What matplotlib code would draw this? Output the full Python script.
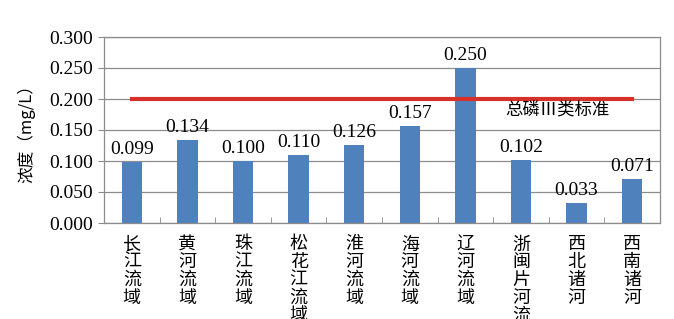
import matplotlib
matplotlib.use('Agg')
import matplotlib.pyplot as plt
import numpy as np

plt.rcParams['font.family'] = ['Liberation Serif', 'Noto Sans CJK SC', 'DejaVu Sans']

# Daten
regions = ['长江流域', '黄河流域', '珠江流域', '松花江流域', '淮河流域',
           '海河流域', '辽河流域', '浙闽片河流域', '西北诸河', '西南诸河']
values = [0.099, 0.134, 0.100, 0.110, 0.126, 0.157, 0.250, 0.102, 0.033, 0.071]
limit = 0.200
limit_label = '总磷Ⅲ类标准'
yticks = [0.0, 0.05, 0.10, 0.15, 0.20, 0.25, 0.30]

fig = plt.figure(figsize=(6.74, 3.19), dpi=100)
ax = fig.add_axes([104 / 674, 1 - 223 / 319, (660 - 104) / 674, (223 - 37) / 319])

x = np.arange(len(regions))
ax.bar(x, values, width=0.37, color='#4F81BD', zorder=2)
for xi, v in zip(x, values):
    ax.text(xi, v + 0.006, f'{v:.3f}', ha='center', va='bottom',
            fontsize=14, zorder=4)

# Grenzwert (von der ersten bis zur letzten Kategorie)
ax.plot([x[0], x[-1]], [limit, limit], color='#D7322A', lw=3, zorder=3)
ax.text(7.66, limit - 0.002, limit_label, ha='center', va='top', fontsize=12.5,
        family=['Noto Sans CJK SC', 'DejaVu Sans'], zorder=4)

ax.set_xlim(-0.5, len(regions) - 0.5)
ax.set_ylim(0, 0.3)
ax.set_yticks(yticks)
ax.set_yticklabels([f'{t:.3f}' for t in yticks], fontsize=14)
ax.yaxis.grid(True, color='#8c8c8c', lw=0.9, zorder=0)
ax.tick_params(axis='y', length=4, color='#8c8c8c', pad=4)

# Kategorien senkrecht untereinander
ax.set_xticks(x)
ax.set_xticklabels(['\n'.join(r) for r in regions], va='top',
                   family=['Noto Sans CJK SC', 'DejaVu Sans'], fontsize=13,
                   linespacing=0.98)
ax.tick_params(axis='x', length=0, pad=9)
ax.set_xticks(np.arange(-0.5, len(regions)), minor=True)
ax.tick_params(axis='x', which='minor', length=4, direction='in', color='#8c8c8c')

for s in ax.spines.values():
    s.set_color('#8c8c8c')
    s.set_linewidth(0.9)

ax.set_ylabel('浓度（mg/L）', family=['Noto Sans CJK SC', 'DejaVu Sans'],
              fontsize=12, labelpad=10)

fig.savefig('out.png', dpi=100)
